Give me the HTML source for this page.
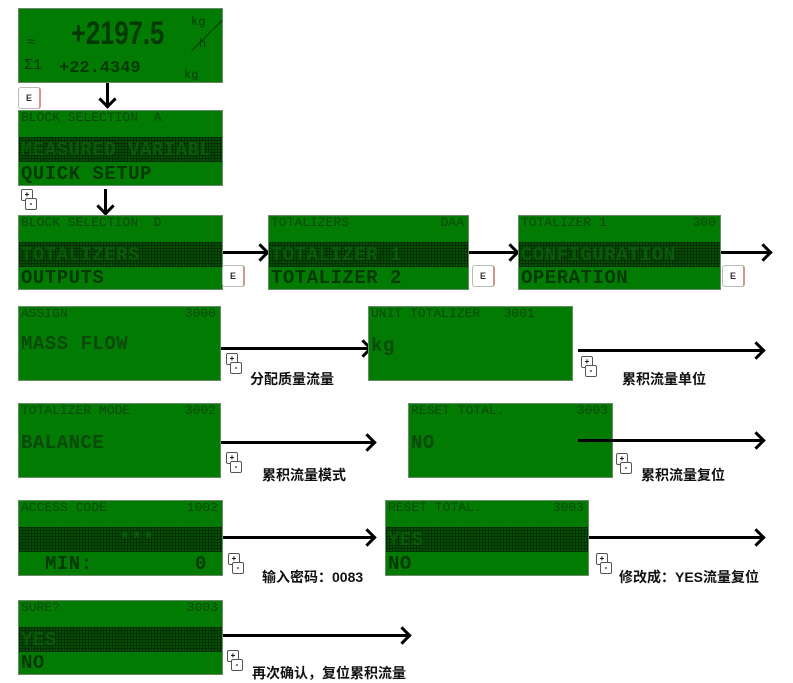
<!DOCTYPE html>
<html><head><meta charset="utf-8"><style>
body{margin:0;width:793px;height:680px;background:#fff;position:relative;overflow:hidden;font-family:"Liberation Mono",monospace}
.p{position:absolute;background:#027b02;border:1px solid #6a8a6a;box-sizing:border-box;color:#013d01;overflow:hidden}
.h{position:absolute;left:2px;right:4px;top:-1px;font-size:13px;line-height:16px;white-space:pre;color:#0a4a0a}
.h span{position:absolute;right:0}
.b{position:absolute;left:0;right:0;height:25px;background:#044f04;background-image:repeating-linear-gradient(90deg,rgba(0,0,0,.35) 0 1px,transparent 1px 3px),repeating-linear-gradient(0deg,rgba(0,0,0,.35) 0 1px,transparent 1px 3px)}
.t{position:absolute;left:2px;font-size:19px;font-weight:bold;line-height:22px;white-space:pre;color:#023a02;letter-spacing:0.5px}
.b .t{color:#0a5a0a;top:2px}
.ar{position:absolute;height:3px;background:#000}
.ar:after{content:"";position:absolute;width:10px;height:10px;border-top:3px solid #000;border-right:3px solid #000;transform:rotate(45deg);right:1px;top:-5.5px}
.va{position:absolute;width:3px;background:#000}
.va:after{content:"";position:absolute;left:-5.5px;bottom:1px;width:10px;height:10px;border-bottom:3px solid #000;border-right:3px solid #000;transform:rotate(45deg)}
.e{position:absolute;width:20px;height:20px;border:1px solid #bbb;border-right:2px solid #c98;border-radius:3px;background:#fff;font:bold 9px "Liberation Sans",sans-serif;text-align:center;line-height:20px;color:#333}
.k{position:absolute;width:16px;height:22px}
.k i{position:absolute;width:10px;height:10px;border:1px solid #555;background:#fff;border-radius:2px;font:bold 8px sans-serif;line-height:9px;text-align:center;font-style:normal}
.lb{position:absolute;font:bold 14px "Liberation Sans","Noto Sans CJK SC",sans-serif;color:#111;white-space:nowrap}
</style></head><body>

<div class="p" style="left:18px;top:8px;width:205px;height:75px">
 <div style="position:absolute;left:52px;top:6px;font:bold 32px 'Liberation Sans Narrow','Liberation Sans',sans-serif;color:#023a02;transform:scaleX(.8);transform-origin:left">+2197.5</div>
 <div style="position:absolute;left:40px;top:50px;font:bold 17px 'Liberation Mono',monospace;color:#023a02">+22.4349</div>
 <div style="position:absolute;left:8px;top:26px;font-size:14px;color:#023a02">≈</div>
 <div style="position:absolute;left:5px;top:48px;font-size:15px;color:#023a02">Σ1</div>
 <div style="position:absolute;left:172px;top:6px;font-size:12px;color:#023a02">kg</div>
 <div style="position:absolute;left:180px;top:28px;font-size:12px;color:#023a02">h</div>
 <div style="position:absolute;left:166px;top:26px;width:44px;height:1px;background:#023a02;transform:rotate(-45deg)"></div>
 <div style="position:absolute;left:165px;top:59px;font-size:12px;color:#023a02">kg</div>
</div>
<div class="e" style="left:18px;top:87px">E</div>
<div class="va" style="left:106px;top:83px;height:24px"></div>

<div class="p" style="left:18px;top:110px;width:205px;height:76px">
 <div class="h">BLOCK SELECTION  A</div>
 <div class="b" style="top:26px"><div class="t">MEASURED VARIABL</div></div>
 <div class="t" style="top:52px">QUICK SETUP</div>
</div>
<div class="k" style="left:21px;top:189px"><i style="left:0;top:0">+</i><i style="left:4px;top:9px">-</i></div>
<div class="va" style="left:104px;top:189px;height:25px"></div>

<div class="p" style="left:18px;top:215px;width:205px;height:75px">
 <div class="h">BLOCK SELECTION  D</div>
 <div class="b" style="top:26px"><div class="t">TOTALIZERS</div></div>
 <div class="t" style="top:51px">OUTPUTS</div>
</div>
<div class="ar" style="left:223px;top:251px;width:45px"></div>
<div class="e" style="left:222px;top:265px">E</div>

<div class="p" style="left:268px;top:215px;width:201px;height:75px">
 <div class="h">TOTALIZERS<span>DAA</span></div>
 <div class="b" style="top:26px"><div class="t">TOTALIZER 1</div></div>
 <div class="t" style="top:51px">TOTALIZER 2</div>
</div>
<div class="ar" style="left:469px;top:251px;width:49px"></div>
<div class="e" style="left:472px;top:265px">E</div>

<div class="p" style="left:518px;top:215px;width:203px;height:75px">
 <div class="h">TOTALIZER 1<span>300</span></div>
 <div class="b" style="top:26px"><div class="t">CONFIGURATION</div></div>
 <div class="t" style="top:51px">OPERATION</div>
</div>
<div class="ar" style="left:721px;top:251px;width:50px"></div>
<div class="e" style="left:722px;top:265px">E</div>

<div class="p" style="left:18px;top:306px;width:203px;height:75px">
 <div class="h">ASSIGN<span>3000</span></div>
 <div class="t" style="top:26px;color:#0a4a0a">MASS FLOW</div>
</div>
<div class="ar" style="left:221px;top:347px;width:150px"></div>
<div class="k" style="left:226px;top:353px"><i style="left:0;top:0">+</i><i style="left:4px;top:9px">-</i></div>
<div class="lb" style="left:250px;top:369px">分配质量流量</div>

<div class="p" style="left:368px;top:306px;width:205px;height:75px">
 <div class="h">UNIT TOTALIZER   3001</div>
 <div class="t" style="top:28px;color:#0a4a0a">kg</div>
</div>
<div class="ar" style="left:578px;top:349px;width:186px"></div>
<div class="k" style="left:581px;top:356px"><i style="left:0;top:0">+</i><i style="left:4px;top:9px">-</i></div>
<div class="lb" style="left:622px;top:369px">累积流量单位</div>

<div class="p" style="left:18px;top:403px;width:203px;height:75px">
 <div class="h">TOTALIZER MODE<span>3002</span></div>
 <div class="t" style="top:28px;color:#0a4a0a">BALANCE</div>
</div>
<div class="ar" style="left:221px;top:441px;width:154px"></div>
<div class="k" style="left:226px;top:452px"><i style="left:0;top:0">+</i><i style="left:4px;top:9px">-</i></div>
<div class="lb" style="left:262px;top:465px">累积流量模式</div>

<div class="p" style="left:408px;top:403px;width:205px;height:75px">
 <div class="h">RESET TOTAL.<span>3003</span></div>
 <div class="t" style="top:28px;color:#0a4a0a">NO</div>
</div>
<div class="ar" style="left:578px;top:439px;width:186px"></div>
<div class="k" style="left:616px;top:453px"><i style="left:0;top:0">+</i><i style="left:4px;top:9px">-</i></div>
<div class="lb" style="left:641px;top:465px">累积流量复位</div>

<div class="p" style="left:18px;top:500px;width:205px;height:76px">
 <div class="h">ACCESS CODE<span>1002</span></div>
 <div class="b" style="top:26px"><div class="t" style="left:100px">***</div></div>
 <div class="t" style="top:52px;left:26px">MIN:</div>
 <div class="t" style="top:52px;left:176px">0</div>
</div>
<div class="ar" style="left:223px;top:536px;width:152px"></div>
<div class="k" style="left:228px;top:553px"><i style="left:0;top:0">+</i><i style="left:4px;top:9px">-</i></div>
<div class="lb" style="left:262px;top:567px">输入密码：0083</div>

<div class="p" style="left:385px;top:500px;width:204px;height:76px">
 <div class="h">RESET TOTAL.<span>3003</span></div>
 <div class="b" style="top:26px"><div class="t">YES</div></div>
 <div class="t" style="top:52px">NO</div>
</div>
<div class="ar" style="left:589px;top:536px;width:175px"></div>
<div class="k" style="left:596px;top:553px"><i style="left:0;top:0">+</i><i style="left:4px;top:9px">-</i></div>
<div class="lb" style="left:619px;top:567px">修改成：YES流量复位</div>

<div class="p" style="left:18px;top:600px;width:205px;height:75px">
 <div class="h">SURE?<span>3003</span></div>
 <div class="b" style="top:26px"><div class="t">YES</div></div>
 <div class="t" style="top:51px">NO</div>
</div>
<div class="ar" style="left:223px;top:634px;width:187px"></div>
<div class="k" style="left:227px;top:650px"><i style="left:0;top:0">+</i><i style="left:4px;top:9px">-</i></div>
<div class="lb" style="left:252px;top:663px">再次确认，复位累积流量</div>

</body></html>
